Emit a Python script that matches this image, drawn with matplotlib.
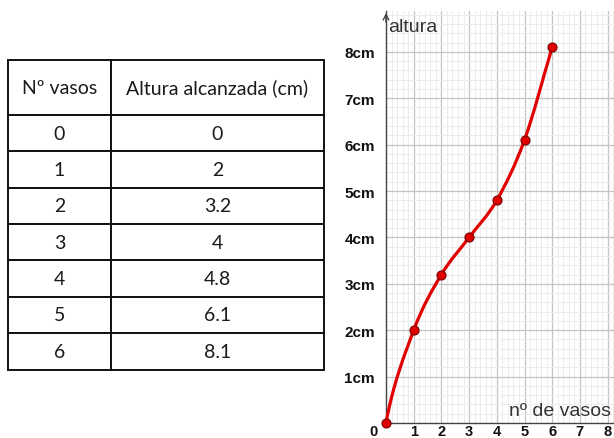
import numpy as np
import matplotlib
matplotlib.use("Agg")
import matplotlib.pyplot as plt
from matplotlib.path import Path
from matplotlib.patches import PathPatch
from matplotlib.ticker import MultipleLocator
import matplotlib.transforms as mtransforms

# ---- data ----
vasos = [0, 1, 2, 3, 4, 5, 6]
altura = [0, 2, 3.2, 4, 4.8, 6.1, 8.1]
altura_txt = ["0", "2", "3.2", "4", "4.8", "6.1", "8.1"]
col_labels = ["Nº vasos", "Altura alcanzada (cm)"]
y_ticks = [1, 2, 3, 4, 5, 6, 7, 8]
y_ticklabels = [f"{v}cm" for v in y_ticks]
x_ticks = [1, 2, 3, 4, 5, 6, 7, 8]
x_ticklabels = [str(v) for v in x_ticks]

W, H = 614, 439
fig = plt.figure(figsize=(W / 100, H / 100), dpi=100)
fig.patch.set_facecolor("white")

# ---- table ----
tax = fig.add_axes([0, 0, 1, 1])
tax.set_axis_off()
cell_text = [[str(v), t] for v, t in zip(vasos, altura_txt)]
tbl = tax.table(cellText=cell_text, colLabels=col_labels, cellLoc="center",
                bbox=[8 / W, 1 - 370.5 / H, (324 - 8) / W, (370.5 - 61) / H])
tbl.auto_set_font_size(False)
col_w = [102.7, 213.3]
for (r, c), cell in tbl.get_celld().items():
    cell.set_width(col_w[c])
    cell.set_height(55 if r == 0 else 36.5)
    cell.set_linewidth(1.4)
    cell.set_edgecolor("#111111")
    cell.get_text().set_fontfamily("Lato")
    cell.get_text().set_fontsize(14)
    cell.get_text().set_color("#1a1a1a")

# ---- graph ----
x0, y0 = 386, 424
px_x, px_y = 27.7, 46.4
xmax = (W - x0) / px_x
ymax = (y0 - 12) / px_y
ax = fig.add_axes([x0 / W, (H - y0) / H, (W - x0) / W, (y0 - 12) / H])
ax.set_xlim(0, xmax)
ax.set_ylim(0, ymax)
ax.xaxis.set_major_locator(MultipleLocator(1))
ax.yaxis.set_major_locator(MultipleLocator(1))
ax.xaxis.set_minor_locator(MultipleLocator(0.2))
ax.yaxis.set_minor_locator(MultipleLocator(0.2))
ax.grid(which="minor", color="#ececec", lw=0.7)
ax.grid(which="major", color="#c4c4c4", lw=0.9)
ax.set_axisbelow(True)
for s in ["top", "right"]:
    ax.spines[s].set_visible(False)
for s in ["left", "bottom"]:
    ax.spines[s].set_color("#444444")
    ax.spines[s].set_linewidth(1.0)

ax.set_yticks(y_ticks)
ax.set_yticklabels(y_ticklabels, fontfamily="Liberation Sans", fontweight="bold",
                   fontsize=11, color="#111111")
ax.set_xticks(x_ticks)
ax.set_xticklabels(x_ticklabels, fontfamily="Liberation Sans", fontweight="bold",
                   fontsize=10.5, color="#111111")
ax.tick_params(which="both", length=0)
ax.tick_params(axis="y", pad=8)
ax.tick_params(axis="x", pad=0.5)
ax.text(0, 0, "0", transform=ax.transData + mtransforms.ScaledTranslation(-12 / 100, -1 / 100, fig.dpi_scale_trans),
        ha="center", va="top", fontfamily="Liberation Sans", fontweight="bold",
        fontsize=10.5, color="#111111", clip_on=False)

# axis arrow
ax.annotate("", xy=(0, ymax + 0.02), xytext=(0, ymax - 0.3),
            arrowprops=dict(arrowstyle="->", color="#444444", lw=1.0,
                            mutation_scale=10), annotation_clip=False)

ax.text(0.06, 8.55, "altura", fontfamily="Liberation Sans", fontsize=14,
        color="#333333", va="center", ha="left")
ax.text(xmax - 0.1, 0.28, "nº de vasos", fontfamily="Liberation Sans", fontsize=14,
        color="#333333", va="center", ha="right")

# smooth curve (Catmull-Rom as cubic Bezier); slightly steeper start tangent like the reference
P = np.column_stack([vasos, altura]).astype(float)
start_tangent = np.array([0.8, 2.6])
ghost0 = P[1] - 2 * start_tangent
ext = np.vstack([ghost0, P, P[-1] + (P[-1] - P[-2])])
verts = [tuple(P[0])]
codes = [Path.MOVETO]
for i in range(1, len(ext) - 2):
    p0, p1, p2, p3 = ext[i - 1], ext[i], ext[i + 1], ext[i + 2]
    c1 = p1 + (p2 - p0) / 6
    c2 = p2 - (p3 - p1) / 6
    verts += [tuple(c1), tuple(c2), tuple(p2)]
    codes += [Path.CURVE4] * 3
patch = PathPatch(Path(verts, codes), facecolor="none", edgecolor="#e00000",
                  lw=2.3, clip_on=False, zorder=3)
ax.add_patch(patch)
ax.plot(vasos, altura, "o", color="#e00000", markeredgecolor="#7a0000",
        markeredgewidth=0.8, markersize=6.5, clip_on=False, zorder=4)

fig.savefig("out.png", dpi=100)
